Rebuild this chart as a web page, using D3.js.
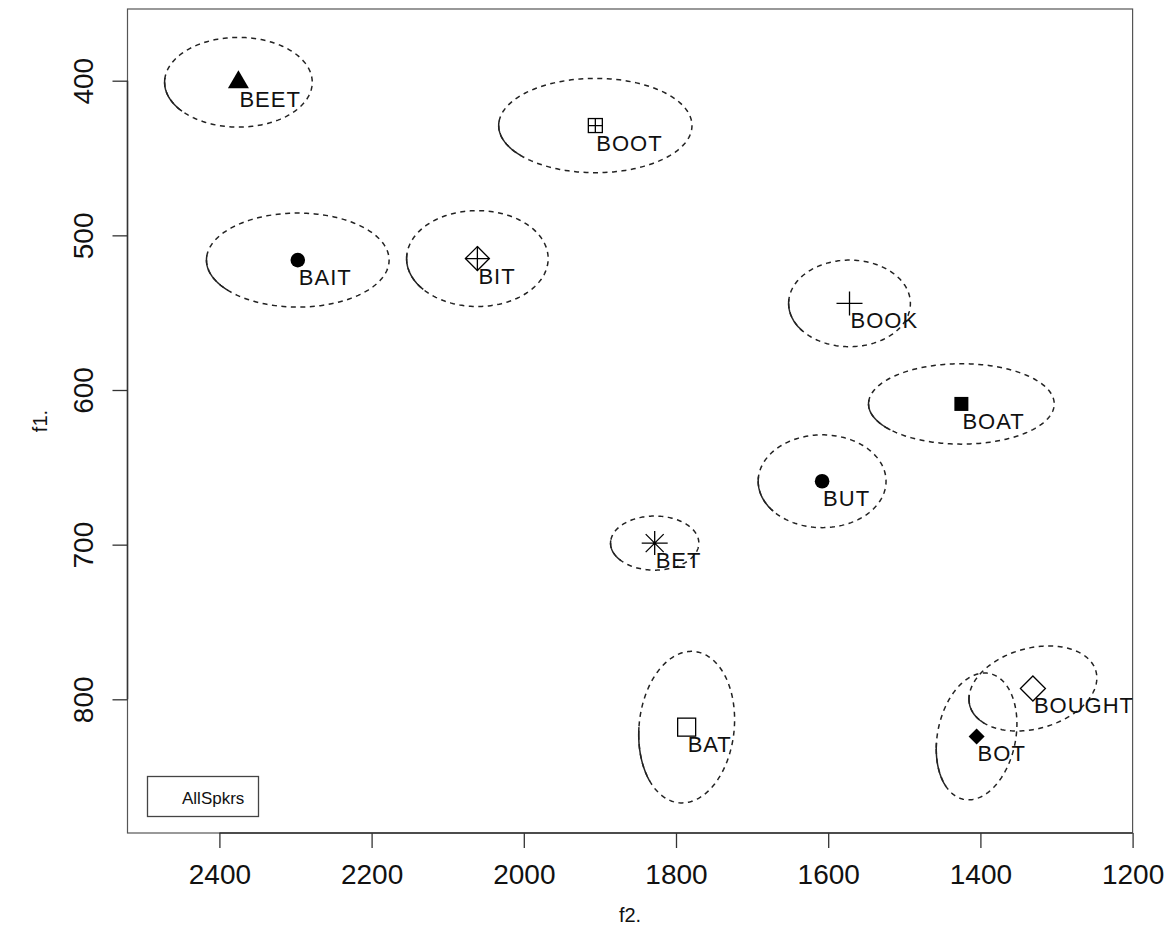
<!DOCTYPE html>
<html>
<head>
<meta charset="utf-8">
<script src="https://cdn.jsdelivr.net/npm/d3@7"></script>
<style>
  html, body { margin: 0; padding: 0; background: #fff; }
  svg { display: block; font-family: "Liberation Sans", Arial, Helvetica, sans-serif; }
</style>
</head>
<body>
<svg id="chart" width="1175" height="945"></svg>
<script>
// ---- data ----
const vowels     = ["BEET","BOOT","BAIT","BIT","BOOK","BOAT","BUT","BET","BAT","BOUGHT","BOT"];
const f2Means    = [2375, 1906, 2297, 2061, 1572, 1425, 1608, 1828, 1786, 1331, 1405];
const f1Means    = [401,  429,  516,  515,  544,  609,  659,  699,  818,  793,  824];
const f2Spread   = [97,   127,  120,  93,   80,   122,  84,   58,   63,   84,   53];
const f1Spread   = [29,   30.5, 30.4, 31,   28,   26,   30,   17.5, 49,   27.5, 41];
const ellipseTilt= [0,    0,    0,    0,    0,    0,    0,    0,    0.1,  0.25, 0.2];
const symbols    = ["triangle","squarePlus","circle","diamondPlus","plus","filledSquare","circle","asterisk","square","diamond","filledDiamond"];
const xTicks     = [2400, 2200, 2000, 1800, 1600, 1400, 1200];
const yTicks     = [400, 500, 600, 700, 800];
const legendLabel = "AllSpkrs";

// ---- layout ----
const svg = d3.select("#chart");
const box = { left: 127.5, right: 1132.6, top: 9, bottom: 833 };

const x = d3.scaleLinear().domain([2400, 1200]).range([219.4, 1132.6]);
const y = d3.scaleLinear().domain([400, 800]).range([80.7, 699.3]);

const ink = "#000";
const frame = "#555";

// plot box
svg.append("rect")
  .attr("x", box.left).attr("y", box.top)
  .attr("width", box.right - box.left).attr("height", box.bottom - box.top)
  .attr("fill", "none").attr("stroke", frame).attr("stroke-width", 1.2);

// x axis
const xAxis = d3.axisBottom(x).tickValues(xTicks).tickSize(15).tickPadding(0).tickFormat(d3.format("d"));
const gx = svg.append("g").attr("transform", `translate(0,${box.bottom})`).call(xAxis);
gx.select(".domain").attr("stroke", "#333").attr("stroke-width", 1.5).attr("d", `M${x(xTicks[0])},0H${x(xTicks[xTicks.length-1])}`);
gx.selectAll(".tick line").attr("stroke", "#333").attr("stroke-width", 1.3);
gx.selectAll(".tick text").attr("fill", "#111").attr("font-size", 28).attr("dy", null).attr("y", 51)
  .attr("font-family", "Liberation Sans, Arial, sans-serif");

// y axis
const yAxis = d3.axisLeft(y).tickValues(yTicks).tickSize(15).tickPadding(0).tickFormat(d3.format("d"));
const gy = svg.append("g").attr("transform", `translate(${box.left},0)`).call(yAxis);
gy.select(".domain").attr("stroke", "#333").attr("stroke-width", 1.5).attr("d", `M0,${y(yTicks[0])}V${y(yTicks[yTicks.length-1])}`);
gy.selectAll(".tick line").attr("stroke", "#333").attr("stroke-width", 1.3);
gy.selectAll(".tick text").attr("fill", "#111").attr("font-size", 28)
  .attr("font-family", "Liberation Sans, Arial, sans-serif")
  .attr("x", null).attr("dy", null)
  .attr("text-anchor", "middle")
  .attr("transform", "translate(-35,0) rotate(-90)");

// axis titles
svg.append("text").attr("x", (box.left + box.right) / 2).attr("y", 922)
  .attr("text-anchor", "middle").attr("font-size", 20).attr("fill", "#111").text("f2.");
svg.append("text").attr("transform", `translate(47,${(box.top + box.bottom) / 2}) rotate(-90)`)
  .attr("text-anchor", "middle").attr("font-size", 20).attr("fill", "#111").text("f1.");

// ---- ellipses ----
const line = d3.line().x(d => d[0]).y(d => d[1]);
function ellipsePoints(i, t0, t1, n) {
  const pts = [];
  for (let k = 0; k <= n; k++) {
    const t = t0 + (t1 - t0) * k / n;
    const f2 = f2Means[i] + f2Spread[i] * Math.cos(t);
    const f1 = f1Means[i] + f1Spread[i] * Math.sin(t + ellipseTilt[i]);
    pts.push([x(f2), y(f1)]);
  }
  return pts;
}
const gEll = svg.append("g").attr("fill", "none").attr("stroke", "#222").attr("stroke-width", 1.5);
vowels.forEach((v, i) => {
  gEll.append("path").attr("d", line(ellipsePoints(i, 0, 2 * Math.PI, 200)))
    .attr("stroke-dasharray", "5,4.5");
  gEll.append("path").attr("d", line(ellipsePoints(i, -0.1, 0.7, 30)));
});

// ---- symbols ----
function drawSymbol(g, type) {
  switch (type) {
    case "triangle":
      g.append("path").attr("d", "M0,-12L10.5,6L-10.5,6Z").attr("fill", ink);
      break;
    case "circle":
      g.append("circle").attr("r", 7.3).attr("fill", ink);
      break;
    case "squarePlus":
      g.append("rect").attr("x", -7).attr("y", -7).attr("width", 14).attr("height", 14)
        .attr("fill", "none").attr("stroke", ink).attr("stroke-width", 1.3);
      g.append("path").attr("d", "M-7,0H7M0,-7V7").attr("stroke", ink).attr("stroke-width", 1.3);
      break;
    case "diamondPlus":
      g.append("path").attr("d", "M0,-12L12,0L0,12L-12,0Z").attr("fill", "none").attr("stroke", ink).attr("stroke-width", 1.3);
      g.append("path").attr("d", "M-12,0H12M0,-12V12").attr("stroke", ink).attr("stroke-width", 1.3);
      break;
    case "plus":
      g.append("path").attr("d", "M-13,0H13M0,-12V12").attr("stroke", ink).attr("stroke-width", 1.3);
      break;
    case "filledSquare":
      g.append("rect").attr("x", -7).attr("y", -7).attr("width", 14).attr("height", 14).attr("fill", ink);
      break;
    case "asterisk":
      g.append("path").attr("d", "M-13,0H13M0,-12V12M-9,-9L9,9M-9,9L9,-9").attr("stroke", ink).attr("stroke-width", 1.3);
      break;
    case "square":
      g.append("rect").attr("x", -9).attr("y", -9).attr("width", 18).attr("height", 18)
        .attr("fill", "none").attr("stroke", ink).attr("stroke-width", 1.3);
      break;
    case "diamond":
      g.append("path").attr("d", "M0,-12.5L12.5,0L0,12.5L-12.5,0Z").attr("fill", "none").attr("stroke", ink).attr("stroke-width", 1.3);
      break;
    case "filledDiamond":
      g.append("path").attr("d", "M0,-8L8,0L0,8L-8,0Z").attr("fill", ink);
      break;
  }
}
const gPts = svg.append("g");
vowels.forEach((v, i) => {
  const g = gPts.append("g").attr("transform", `translate(${x(f2Means[i])},${y(f1Means[i])})`);
  drawSymbol(g, symbols[i]);
});

// ---- labels ----
svg.append("g").selectAll("text").data(vowels).join("text")
  .attr("x", (d, i) => x(f2Means[i]) + 1)
  .attr("y", (d, i) => y(f1Means[i]) + 25)
  .attr("font-size", 22).attr("letter-spacing", 1).attr("fill", "#111")
  .text(d => d);

// ---- legend ----
svg.append("rect").attr("x", 147.5).attr("y", 776.5).attr("width", 111).attr("height", 40)
  .attr("fill", "none").attr("stroke", "#444").attr("stroke-width", 1.3);
svg.append("text").attr("x", 182).attr("y", 804).attr("font-size", 17).attr("fill", "#111").text(legendLabel);
</script>
</body>
</html>
